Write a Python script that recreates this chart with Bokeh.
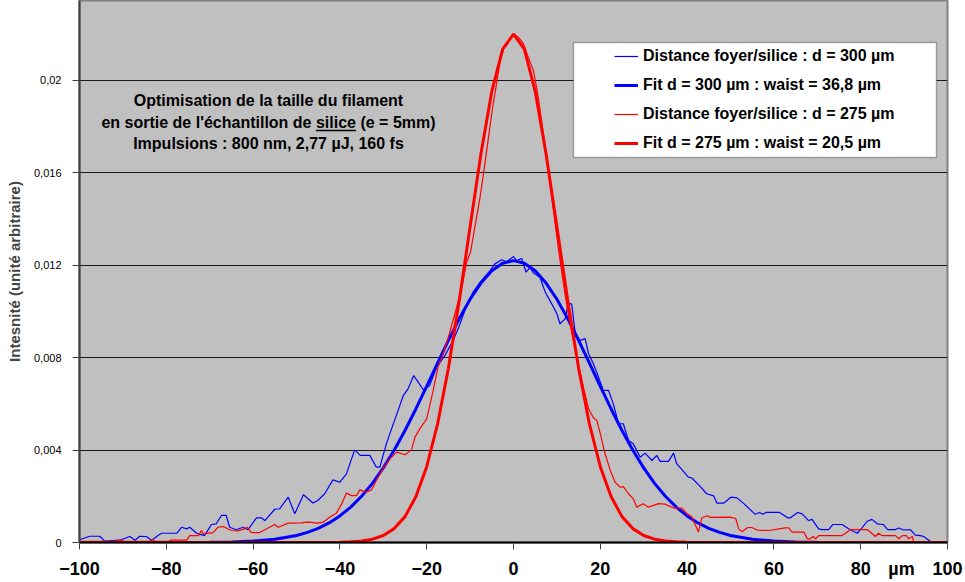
from bokeh.plotting import figure
from bokeh.models import (Range1d, FixedTicker, Legend, LegendItem, Label,
                          BoxAnnotation, ColumnDataSource)
from bokeh.embed import file_html
from bokeh.resources import INLINE

# ---------------- data ----------------
BLUE_X = [-100, -97.7, -95.3, -94.2, -90.7, -88.4, -87.2, -86.1, -84.6, -83.4, -81.9, -81.1,
          -77.6, -76.5, -75.3, -74.6, -73.0, -71.2, -69.6, -68.5, -67.3, -66.2, -65.4, -63.9,
          -62.3, -61.2, -59.2, -58.1, -57.3, -55.0, -53.9, -51.9, -50.4, -48.4, -46.2, -45.1,
          -43.5, -41.6, -40.0, -38.5, -36.6, -35.3, -33.1, -31.6, -30.8, -29.3, -28.1, -26.6,
          -25.4, -24.3, -23.0, -22.0, -20.8, -19.3, -17.7, -15.8, -13.9, -12.3, -10.8, -9.3,
          -7.7, -5.4, -4.3, -2.7, -1.6, 0.0, 0.7, 1.9, 2.9, 3.8, 4.6, 6.1, 7.3, 8.8, 10.0,
          10.7, 11.9, 12.6, 13.4, 14.2, 15.3, 16.5, 17.3, 18.4, 19.6, 20.7, 21.9, 23.0, 24.2,
          25.3, 26.5, 27.6, 29.2, 30.3, 31.9, 33.0, 33.8, 35.7, 36.9, 37.6, 40.3, 41.1, 42.9,
          44.5, 46.1, 46.9, 48.4, 50.1, 51.5, 53.2, 55.7, 56.7, 57.5, 58.2, 61.3, 63.2, 63.8,
          65.5, 66.5, 68.0, 68.8, 70.3, 71.1, 72.6, 73.6, 75.7, 77.6, 79.2, 80.3, 81.5, 82.6,
          83.8, 85.2, 86.2, 88.0, 88.8, 89.6, 91.5, 92.6, 93.8, 94.5, 96.1, 100]
BLUE_Y = [0.00012, 0.00027, 0.00027, 0.00006, 0.0001, 0.00026, 0.0001, 0.00027, 0.00026, 0.0001,
          0.0003, 0.0004, 0.0004, 0.00066, 0.00059, 0.00066, 0.0004, 0.0003, 0.00078, 0.00081,
          0.00117, 0.00117, 0.00066, 0.00055, 0.00066, 0.00055, 0.00107, 0.00107, 0.00095,
          0.00144, 0.00146, 0.00196, 0.00124, 0.00207, 0.00171, 0.00182, 0.00211, 0.00271,
          0.00261, 0.00297, 0.00401, 0.00377, 0.00377, 0.00326, 0.00326, 0.00427, 0.00492,
          0.00571, 0.00636, 0.00665, 0.00723, 0.00695, 0.00661, 0.0068, 0.00759, 0.0081,
          0.00874, 0.00947, 0.01026, 0.01084, 0.01127, 0.01177, 0.01206, 0.01224, 0.01215,
          0.01238, 0.0122, 0.01229, 0.0117, 0.01191, 0.01167, 0.01148, 0.01084, 0.01033,
          0.0099, 0.00947, 0.00968, 0.01033, 0.01033, 0.0091, 0.00874, 0.00883, 0.00817,
          0.00774, 0.00716, 0.00658, 0.00659, 0.006, 0.00514, 0.00514, 0.00442, 0.00427,
          0.00369, 0.00387, 0.00355, 0.00377, 0.00351, 0.00351, 0.00387, 0.00341, 0.00283,
          0.00279, 0.00245, 0.00211, 0.00202, 0.0017, 0.0017, 0.00196, 0.00193, 0.00166,
          0.00122, 0.0013, 0.00122, 0.0013, 0.0013, 0.00107, 0.00107, 0.0013, 0.00124,
          0.00095, 0.001, 0.00059, 0.00056, 0.00056, 0.00078, 0.00078, 0.00055, 0.0004,
          0.00063, 0.00092, 0.001, 0.00081, 0.00078, 0.00056, 0.00056, 0.00063, 0.00056,
          0.00055, 0.00032, 0.0003, 0.00026, 0.00004, 0.0]

RED_X = [-100, -91.5, -90.7, -89.8, -83.8, -83.2, -82.5, -79.6, -78.8, -75.3, -74.6, -72.6,
         -71.9, -71.5, -69.2, -68.1, -66.9, -65.0, -63.5, -61.9, -61.4, -60.4, -58.5, -55.0,
         -54.2, -51.9, -48.9, -47.7, -46.6, -45.4, -43.9, -42.3, -40.8, -39.6, -38.5, -37.3,
         -36.2, -35.4, -34.0, -32.7, -31.6, -30.0, -28.5, -26.9, -25.0, -23.5, -22.7, -21.6,
         -20.0, -18.5, -17.4, -16.2, -14.8, -13.5, -11.9, -10.8, -9.9, -8.9, -7.7, -6.6,
         -5.8, -4.8, -3.9, -3.1, -2.2, -1.6, -0.8, 0.0, 1.1, 2.3, 3.4, 4.6, 5.7, 6.9, 8.0,
         9.2, 10.3, 11.5, 12.6, 13.8, 14.9, 16.1, 17.3, 18.4, 19.2, 20.0, 21.1, 22.3, 23.4,
         24.6, 25.3, 26.5, 27.6, 28.4, 29.9, 31.1, 33.4, 34.9, 36.9, 38.8, 40.0, 41.1, 42.6,
         43.4, 44.7, 45.3, 49.9, 51.2, 51.9, 52.6, 54.0, 54.9, 56.3, 58.8, 62.6, 63.4, 64.2,
         66.9, 67.7, 68.4, 69.0, 69.6, 70.3, 75.7, 76.9, 77.6, 81.5, 82.6, 83.4, 84.1, 84.9,
         88.0, 88.8, 89.6, 90.5, 91.1, 91.9, 92.2, 100]
RED_Y = [0.00005, 0.00005, 0.0001, 0.00005, 0.00005, 0.00013, 0.00005, 0.00005, 0.0001, 0.0001,
         0.0003, 0.0003, 0.00052, 0.00037, 0.00043, 0.00066, 0.00069, 0.00052, 0.0005, 0.00059,
         0.00066, 0.00043, 0.00043, 0.00078, 0.00066, 0.00084, 0.00085, 0.00088, 0.00087,
         0.00084, 0.00087, 0.0011, 0.00127, 0.00167, 0.00214, 0.00203, 0.00203, 0.00228,
         0.00218, 0.00228, 0.00268, 0.00323, 0.00362, 0.00391, 0.0038, 0.00401, 0.00456,
         0.00492, 0.00535, 0.00658, 0.00759, 0.00817, 0.00903, 0.0099, 0.01105, 0.01213,
         0.01257, 0.01365, 0.01495, 0.01639, 0.01748, 0.01884, 0.01986, 0.0208, 0.02144,
         0.0215, 0.0218, 0.02202, 0.02187, 0.02159, 0.02101, 0.02043, 0.01928, 0.01769,
         0.0161, 0.01437, 0.01278, 0.0112, 0.0099, 0.00874, 0.00774, 0.00672, 0.00579,
         0.0054, 0.00528, 0.00471, 0.00384, 0.00312, 0.00261, 0.00239, 0.00242, 0.00211,
         0.00189, 0.00153, 0.00168, 0.00153, 0.00168, 0.00166, 0.00149, 0.00149, 0.00124,
         0.0011, 0.00045, 0.00107, 0.00116, 0.00109, 0.0011, 0.00104, 0.00059, 0.00047,
         0.00065, 0.00065, 0.00053, 0.00052, 0.00063, 0.00063, 0.00045, 0.00045, 0.00016,
         0.00016, 0.00026, 0.00016, 0.0003, 0.0003, 0.00045, 0.00056, 0.00056, 0.00039,
         0.00026, 0.0004, 0.0003, 0.0003, 0.00016, 0.0003, 0.0003, 0.00016, 0.00026, 0.00002,
         0.0]

FIT_X = [-100, -80, -70, -65, -60, -55, -50, -47.5, -45, -42.5, -40, -37.5, -35, -32.5, -30,
         -27.5, -25, -22.5, -20, -17.5, -15, -12.5, -10, -7.5, -5, -2.5, 0, 2.5, 5, 7.5, 10,
         12.5, 15, 17.5, 20, 22.5, 25, 27.5, 30, 32.5, 35, 37.5, 40, 42.5, 45, 47.5, 50, 55,
         60, 65, 70, 80, 100]
FIT_BLUE_Y = [0.0, 0.0, 0.0000088, 0.0000238, 0.0000599, 0.00014, 0.000304, 0.000436, 0.000613,
              0.000847, 0.00115, 0.00153, 0.002, 0.00256, 0.00323, 0.00399, 0.00485, 0.00578,
              0.00676, 0.00776, 0.00875, 0.00969, 0.01053, 0.01123, 0.01176, 0.01209, 0.0122,
              0.01209, 0.01176, 0.01123, 0.01053, 0.00969, 0.00875, 0.00776, 0.00676, 0.00578,
              0.00485, 0.00399, 0.00323, 0.00256, 0.002, 0.00153, 0.00115, 0.000847, 0.000613,
              0.000436, 0.000304, 0.00014, 0.0000599, 0.0000238, 0.0000088, 0.0, 0.0]
FIT_RED_Y = [0.0, 0.0, 0.0, 0.0, 0.0, 0.0, 0.0, 0.0, 0.0000014, 0.000004, 0.0000109, 0.0000273,
             0.0000647, 0.000144, 0.000304, 0.000601, 0.00112, 0.00198, 0.00328, 0.00512,
             0.00754, 0.01046, 0.01367, 0.01683, 0.01953, 0.02136, 0.022, 0.02136, 0.01953,
             0.01683, 0.01367, 0.01046, 0.00754, 0.00512, 0.00328, 0.00198, 0.00112, 0.000601,
             0.000304, 0.000144, 0.0000647, 0.0000273, 0.0000109, 0.000004, 0.0000014, 0.0,
             0.0, 0.0, 0.0, 0.0, 0.0, 0.0, 0.0]

SERIES_LABELS = ["Distance foyer/silice : d = 300 µm",
                 "Fit d = 300 µm : waist = 36,8 µm",
                 "Distance foyer/silice : d = 275 µm",
                 "Fit d = 275 µm : waist = 20,5 µm"]

X_TICKS = [-100, -80, -60, -40, -20, 0, 20, 40, 60, 80, 100]
X_UNIT_POS = 89.4
X_UNIT = "µm"
Y_TICKS = [0, 0.004, 0.008, 0.012, 0.016, 0.02]
Y_TICK_LABELS = ["0", "0,004", "0,008", "0,012", "0,016", "0,02"]

NOTE_LINES = ["Optimisation de la taille du filament",
              "en sortie de l'échantillon de silice (e = 5mm)",
              "Impulsions : 800 nm, 2,77 µJ, 160 fs"]
Y_LABEL = "Intesnité (unité arbitraire)"

# ---------------- figure ----------------
FONT = "Liberation Sans"
W, H = 965, 582
L, R, T, B = 79, 18, 0, 40
X0, X1, Y0, Y1 = -100, 100, 0, 0.02346

p = figure(width=W, height=H, output_backend="svg", toolbar_location=None,
           x_range=Range1d(X0, X1), y_range=Range1d(Y0, Y1),
           min_border_left=L, min_border_right=R, min_border_top=T, min_border_bottom=B)
p.background_fill_color = "#C0C0C0"
p.border_fill_color = "white"
p.outline_line_color = "#808080"
p.outline_line_width = 2

p.xgrid.visible = False
p.ygrid.ticker = FixedTicker(ticks=Y_TICKS)
p.ygrid.grid_line_color = "#1a1a1a"
p.ygrid.grid_line_width = 1

# x axis: labelled positions are the ticks plus the unit; visible tick marks
# are drawn as "minor" ticks at the numbered positions only
xa = p.xaxis[0]
xa.ticker = FixedTicker(ticks=X_TICKS + [X_UNIT_POS], minor_ticks=X_TICKS)
xa.major_label_overrides = {X_UNIT_POS: X_UNIT}
xa.axis_line_color = "black"
xa.axis_line_width = 2
xa.major_tick_line_color = None
xa.major_tick_out = 7
xa.major_tick_in = 0
xa.minor_tick_line_color = "#404040"
xa.minor_tick_line_width = 1
xa.minor_tick_out = 7
xa.minor_tick_in = 0
xa.major_label_text_font = FONT
xa.major_label_text_font_style = "bold"
xa.major_label_text_font_size = "18px"
xa.major_label_text_color = "black"
xa.major_label_standoff = 9

ya = p.yaxis[0]
ya.ticker = FixedTicker(ticks=Y_TICKS)
ya.major_label_overrides = dict(zip(Y_TICKS, Y_TICK_LABELS))
ya.axis_line_color = "#404040"
ya.axis_line_width = 2
ya.major_tick_line_color = "#404040"
ya.major_tick_out = 7
ya.major_tick_in = 0
ya.minor_tick_out = 0
ya.minor_tick_in = 0
ya.major_label_text_font = FONT
ya.major_label_text_font_size = "11px"
ya.major_label_text_color = "black"
ya.major_label_standoff = 11
ya.axis_label = Y_LABEL
ya.axis_label_text_font = FONT
ya.axis_label_text_font_style = "bold"
ya.axis_label_text_font_size = "15px"
ya.axis_label_standoff = 8

src_b = ColumnDataSource(dict(x=BLUE_X, y=BLUE_Y))
src_r = ColumnDataSource(dict(x=RED_X, y=RED_Y))
src_f = ColumnDataSource(dict(x=FIT_X, yb=FIT_BLUE_Y, yr=FIT_RED_Y))

r1 = p.line("x", "y", source=src_b, line_color="#0000FF", line_width=1.2)
r2 = p.line("x", "yb", source=src_f, line_color="#0000FF", line_width=3)
r3 = p.line("x", "y", source=src_r, line_color="#FF0000", line_width=1.2)
r4 = p.line("x", "yr", source=src_f, line_color="#FF0000", line_width=3)

# pixel -> data helpers for layout placement (frame geometry is fixed above)
FW, FH = W - L - R, H - T - B
def dx(px):
    return X0 + (px - L) / FW * (X1 - X0)
def dy(py):
    return Y1 - (py - T) / FH * (Y1 - Y0)

# legend box
box = BoxAnnotation(left=dx(573), right=dx(936), top=dy(42), bottom=dy(157),
                    fill_color="white", fill_alpha=1, line_color="black", line_width=1.5,
                    level="annotation")
p.add_layout(box)

legend = Legend(items=[LegendItem(label=lab, renderers=[r])
                       for lab, r in zip(SERIES_LABELS, [r1, r2, r3, r4])],
                location=(614 - L, H - B - 153), padding=0, margin=0, spacing=9,
                label_height=20, glyph_height=20, glyph_width=24, label_standoff=5,
                background_fill_alpha=0, border_line_alpha=0,
                label_text_font=FONT, label_text_font_style="bold",
                label_text_font_size="16px", label_text_color="black")
p.add_layout(legend)

# annotation
NOTE_FS = 16
for line, py in zip(NOTE_LINES, [100, 122, 143]):
    p.add_layout(Label(x=dx(268), y=dy(py), text=line, text_align="center",
                       text_baseline="middle", text_font=FONT, text_font_style="bold",
                       text_font_size=f"{NOTE_FS}px", text_color="black"))
# underline of "silice" (computed from Arial-bold advance widths of the centred line)
u0 = 268 + 2.966 * NOTE_FS
u1 = 268 + 5.468 * NOTE_FS
p.segment(x0=[dx(u0)], y0=[dy(130)], x1=[dx(u1)], y1=[dy(130)], line_color="black",
          line_width=1.3)

open("out.html", "w").write(file_html(p, INLINE))
